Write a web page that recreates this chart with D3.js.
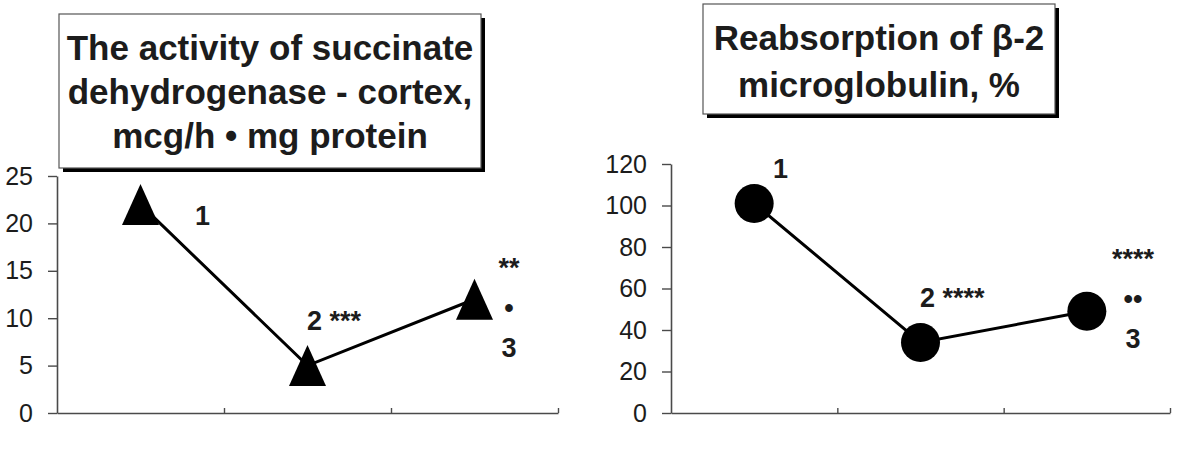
<!DOCTYPE html>
<html>
<head>
<meta charset="utf-8">
<script src="https://cdn.jsdelivr.net/npm/d3@7/dist/d3.min.js"></script>
<style>
  html, body { margin: 0; padding: 0; background: #fff; }
  svg { display: block; }
  text { font-family: "Liberation Sans", Arial, sans-serif; }
</style>
</head>
<body>
<svg id="chart" width="1182" height="453"></svg>
<script>
// ---------- data ----------
const categories = ["1", "2", "3"];
const sdhValues = [22, 5, 12];            // succinate dehydrogenase, cortex
const b2mValues = [101, 34, 49];          // reabsorption of beta-2 microglobulin, %
const sdhTicks = [0, 5, 10, 15, 20, 25];
const b2mTicks = [0, 20, 40, 60, 80, 100, 120];
const sdhTitle = ["The activity of succinate", "dehydrogenase - cortex,", "mcg/h \u2022 mg protein"];
const b2mTitle = ["Reabsorption of \u03b2-2", "microglobulin, %"];
// annotations: [text lines, x in category units, y in data units (first baseline), anchor]
const sdhNotes = [
  { lines: ["1"], x: 0.826, y: 19.8, anchor: "start" },
  { lines: ["2 ***"], x: 1.497, y: 8.76, anchor: "start" },
  { lines: ["**", "\u2022", "3"], x: 2.707, y: 14.35, anchor: "middle" }
];
const b2mNotes = [
  { lines: ["1"], x: 0.613, y: 113.3, anchor: "start" },
  { lines: ["2 ****"], x: 1.497, y: 51.1, anchor: "start" },
  { lines: ["****", "\u2022\u2022", "3"], x: 2.778, y: 69.9, anchor: "middle" }
];

// ---------- drawing ----------
const svg = d3.select("#chart");
const axisColor = "#4a4a4a";
const textColor = "#1c1c1c";

function drawPanel(cfg) {
  const g = svg.append("g");
  const x = d3.scaleLinear().domain([0, categories.length]).range([cfg.left, cfg.right]);
  const y = d3.scaleLinear().domain([0, cfg.yMax]).range([cfg.bottom, cfg.top]);

  // y axis
  const yAxis = d3.axisLeft(y).tickValues(cfg.ticks).tickSize(9).tickPadding(15).tickSizeOuter(0);
  const ya = g.append("g").attr("transform", `translate(${cfg.left},0)`).call(yAxis);
  ya.select(".domain").attr("stroke", axisColor).attr("stroke-width", 1.6);
  ya.selectAll(".tick line").attr("stroke", axisColor).attr("stroke-width", 1.4);
  ya.selectAll(".tick text").attr("fill", textColor)
    .style("font-size", "25px").style("font-family", "'Liberation Sans', Arial, sans-serif");

  // x axis (no labels, small inner ticks at category boundaries)
  const xAxis = d3.axisBottom(x).tickValues(d3.range(1, categories.length + 1))
    .tickSize(-5).tickFormat("").tickSizeOuter(0);
  const xa = g.append("g").attr("transform", `translate(0,${cfg.bottom})`).call(xAxis);
  xa.select(".domain").attr("stroke", axisColor).attr("stroke-width", 1.6);
  xa.selectAll(".tick line").attr("stroke", axisColor).attr("stroke-width", 1.4);

  // line
  const pts = cfg.values.map((v, i) => [x(i + 0.5), y(v)]);
  g.append("path").datum(pts)
    .attr("d", d3.line())
    .attr("fill", "none").attr("stroke", "#000").attr("stroke-width", 3);

  // markers
  if (cfg.marker === "triangle") {
    const w = 37, h = 41;
    g.selectAll("path.mk").data(pts).join("path").attr("class", "mk")
      .attr("d", d => `M${d[0]},${d[1] - h / 2}L${d[0] + w / 2},${d[1] + h / 2}L${d[0] - w / 2},${d[1] + h / 2}Z`)
      .attr("fill", "#000");
  } else {
    g.selectAll("circle.mk").data(pts).join("circle").attr("class", "mk")
      .attr("cx", d => d[0]).attr("cy", d => d[1]).attr("r", 19.5).attr("fill", "#000");
  }

  // annotations
  cfg.notes.forEach(n => {
    const t = g.append("text")
      .attr("x", x(n.x)).attr("y", y(n.y))
      .attr("text-anchor", n.anchor)
      .attr("fill", textColor)
      .style("font-size", "27px").style("font-weight", "bold");
    n.lines.forEach((ln, i) => {
      t.append("tspan").attr("x", x(n.x)).attr("dy", i === 0 ? 0 : 40).text(ln);
    });
  });

  // title box
  const b = cfg.box;
  g.append("rect").attr("x", b.x + 4).attr("y", b.y + 4).attr("width", b.w).attr("height", b.h).attr("fill", "#000");
  g.append("rect").attr("x", b.x).attr("y", b.y).attr("width", b.w).attr("height", b.h)
    .attr("fill", "#fff").attr("stroke", "#555").attr("stroke-width", 1.2);
  const tt = g.append("text").attr("text-anchor", "middle").attr("fill", textColor)
    .style("font-size", "35px").style("font-weight", "bold");
  cfg.title.forEach((ln, i) => {
    tt.append("tspan").attr("x", b.x + b.w / 2).attr("y", cfg.titleY + i * cfg.titleStep).text(ln);
  });
}

drawPanel({
  left: 57, right: 558, top: 176, bottom: 413, yMax: 25,
  ticks: sdhTicks, values: sdhValues, marker: "triangle", notes: sdhNotes,
  box: { x: 59, y: 14, w: 422, h: 154 }, title: sdhTitle, titleY: 60, titleStep: 44
});
drawPanel({
  left: 671, right: 1170, top: 164, bottom: 413, yMax: 120,
  ticks: b2mTicks, values: b2mValues, marker: "circle", notes: b2mNotes,
  box: { x: 703, y: 4, w: 352, h: 110 }, title: b2mTitle, titleY: 50, titleStep: 47
});
</script>
</body>
</html>
